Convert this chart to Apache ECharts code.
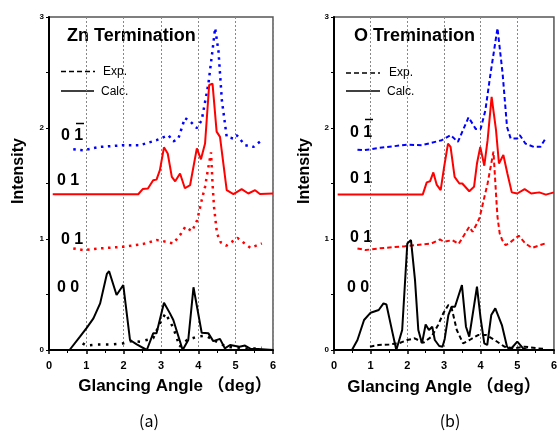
<!DOCTYPE html>
<html>
<head>
<meta charset="utf-8">
<script src="https://cdn.jsdelivr.net/npm/echarts@6/dist/echarts.min.js"></script>
<style>
  html,body{margin:0;padding:0;background:#fff;}
  #chart{width:560px;height:432px;}
</style>
</head>
<body>
<div id="chart"></div>
<script>
// [angle (deg), intensity] pairs
// (a) Zn termination
var znCalc00 = [[0,0],[0.55,0],[0.83,0.12],[1.01,0.2],[1.19,0.285],[1.37,0.42],[1.55,0.685],[1.61,0.71],[1.81,0.495],[1.99,0.585],[2.17,0.09],[2.35,0.05],[2.62,0],[2.79,0.15],[2.88,0.15],[3.08,0.425],[3.24,0.33],[3.33,0.27],[3.58,0],[3.73,0.09],[3.87,0.565],[4.09,0.155],[4.27,0.15],[4.4,0.08],[4.58,0.1],[4.71,0.015],[4.85,0.045],[5.1,0.03],[5.25,0.04],[5.4,0.01],[5.6,0.01],[6,0]];
var znExp00 = [[0.9,0.06],[1.0,0.04],[1.3,0.05],[1.7,0.05],[2.0,0.06],[2.2,0.08],[2.44,0.075],[2.79,0.105],[2.97,0.24],[3.12,0.33],[3.33,0.2],[3.5,0.03],[3.7,0.09],[3.97,0.12],[4.2,0.13],[4.4,0.09],[4.75,0.03],[5.1,0.02],[5.4,0.01],[5.7,0.02]];
var znExp01 = [[0.65,0.915],[0.92,0.9],[1.37,0.915],[1.99,0.93],[2.52,0.955],[2.88,0.99],[3.0,0.985],[3.33,0.96],[3.54,1.05],[3.65,1.11],[3.83,1.07],[3.97,1.17],[4.09,1.35],[4.18,1.47],[4.27,1.65],[4.34,1.78],[4.38,1.5],[4.42,1.29],[4.5,1.05],[4.6,0.97],[4.75,0.94],[5.05,1.01],[5.2,0.97],[5.4,0.92],[5.7,0.96]];
var znCalc01 = [[0.1,1.403],[2.39,1.403],[2.51,1.45],[2.65,1.455],[2.79,1.53],[2.88,1.535],[2.97,1.62],[3.08,1.826],[3.18,1.77],[3.29,1.56],[3.38,1.52],[3.51,1.59],[3.64,1.457],[3.78,1.486],[3.96,1.817],[4.07,1.718],[4.18,1.86],[4.29,2.387],[4.38,2.4],[4.49,1.967],[4.58,1.92],[4.76,1.44],[4.94,1.405],[5.16,1.45],[5.34,1.41],[5.52,1.44],[5.65,1.405],[6.0,1.41]];
var znExp0m1 = [[0.65,1.808],[0.92,1.8],[1.37,1.83],[1.99,1.845],[2.44,1.845],[2.88,1.89],[3.2,1.935],[3.33,1.88],[3.46,1.9],[3.64,2.09],[3.78,2.06],[3.96,2.0],[4.09,2.07],[4.27,2.4],[4.38,2.7],[4.45,2.9],[4.54,2.69],[4.63,2.25],[4.76,1.92],[4.94,1.905],[5.03,1.935],[5.25,1.845],[5.48,1.83],[5.7,1.89]];

// (b) O termination
var oCalc00 = [[0,0],[0.49,0],[0.64,0.09],[0.82,0.27],[1.0,0.336],[1.22,0.36],[1.35,0.42],[1.43,0.41],[1.6,0.15],[1.7,0],[1.86,0.18],[2.0,0.96],[2.1,0.99],[2.21,0.63],[2.3,0.18],[2.4,0.06],[2.5,0.23],[2.59,0.18],[2.68,0.21],[2.75,0.09],[2.87,0.036],[2.96,0.03],[3.02,0.1],[3.12,0.315],[3.21,0.39],[3.3,0.39],[3.49,0.585],[3.6,0.21],[3.69,0.12],[3.9,0.57],[4.0,0.285],[4.1,0.06],[4.18,0.045],[4.29,0.315],[4.4,0.375],[4.58,0.225],[4.72,0.03],[4.8,0],[5.0,0.075],[5.16,0.015],[5.3,0],[6,0]];
var oExp00 = [[0.98,0.03],[1.22,0.045],[1.5,0.05],[1.77,0.06],[2.0,0.09],[2.2,0.105],[2.44,0.066],[2.66,0.12],[2.84,0.225],[2.98,0.33],[3.12,0.405],[3.2,0.39],[3.35,0.18],[3.52,0.06],[3.7,0.09],[3.93,0.135],[4.15,0.135],[4.38,0.09],[4.65,0.03],[4.9,0.015],[5.2,0.03],[5.56,0.015],[5.75,0.01]];
var oExp01 = [[0.64,0.915],[0.86,0.9],[1.22,0.915],[1.93,0.935],[2.66,0.96],[2.89,0.996],[3.0,0.975],[3.23,0.99],[3.4,0.955],[3.69,1.11],[3.78,1.065],[3.9,1.14],[3.97,1.19],[4.19,1.5],[4.35,1.787],[4.43,1.35],[4.46,1.2],[4.52,1.05],[4.59,0.99],[4.68,0.945],[4.77,0.96],[5.04,1.03],[5.22,0.96],[5.4,0.92],[5.58,0.94],[5.76,0.96]];
var oCalc01 = [[0.1,1.4],[2.42,1.4],[2.53,1.51],[2.62,1.52],[2.71,1.6],[2.8,1.49],[2.91,1.44],[3.0,1.64],[3.11,1.86],[3.18,1.83],[3.29,1.56],[3.42,1.5],[3.5,1.5],[3.69,1.43],[3.82,1.47],[3.9,1.68],[3.99,1.83],[4.1,1.66],[4.19,1.89],[4.3,2.28],[4.42,1.98],[4.5,1.68],[4.62,1.757],[4.73,1.59],[4.85,1.42],[5.0,1.41],[5.2,1.45],[5.38,1.41],[5.6,1.42],[5.78,1.4],[6.0,1.42]];
var oExp0m1 = [[0.64,1.805],[0.82,1.8],[1.22,1.82],[2.0,1.85],[2.4,1.845],[2.94,1.89],[3.18,1.935],[3.38,1.875],[3.67,2.096],[3.87,1.99],[4.0,1.99],[4.13,2.16],[4.27,2.49],[4.46,2.9],[4.6,2.49],[4.72,2.01],[4.82,1.905],[5.0,1.905],[5.07,1.935],[5.22,1.86],[5.45,1.83],[5.63,1.83],[5.77,1.905]];

var titles = ['Zn Termination', 'O Tremination'];
var panelTags = ['(a)', '(b)'];
var xTitle = 'Glancing Angle （deg）';
var yTitle = 'Intensity';

var FONT = '"Liberation Sans", Arial, sans-serif';
var dotted = [2.5, 4.5];
var dottedSparse = [2.5, 5.5];
var dashed = [4.5, 3];

function xAx(idx){
  return {
    gridIndex: idx, type: 'value', min: 0, max: 6, interval: 1,
    axisLine: {show: true, onZero: false, lineStyle: {color: '#000', width: 2}},
    axisTick: {show: true, length: 4, lineStyle: {color: '#000', width: 1.5}},
    minorTick: {show: true, splitNumber: 2, length: 3, lineStyle: {color: '#000'}},
    axisLabel: {fontSize: 11, fontWeight: 'bold', color: '#000', margin: 10, fontFamily: FONT},
    splitLine: {show: true, lineStyle: {color: '#888', type: [2, 2], width: 1}}
  };
}
function yAx(idx){
  return {
    gridIndex: idx, type: 'value', min: 0, max: 3, interval: 1,
    axisLine: {show: true, lineStyle: {color: '#000', width: 2}},
    axisTick: {show: true, length: 3, lineStyle: {color: '#000'}},
    minorTick: {show: true, splitNumber: 2, length: 3, lineStyle: {color: '#000'}},
    axisLabel: {fontSize: 8, fontWeight: 'bold', color: '#000', margin: 5, fontFamily: FONT},
    splitLine: {show: false}
  };
}
function line(idx, data, color, dash, w){
  return {
    type: 'line', xAxisIndex: idx, yAxisIndex: idx, data: data,
    showSymbol: false, symbol: 'none', animation: false, silent: true,
    lineStyle: {color: color, width: w, type: dash}
  };
}

function txt(x, y, s, size, weight, extra){
  var t = {type: 'text', x: x, y: y, style: {text: s, fontSize: size, fontWeight: weight || 'normal', fontFamily: FONT, fill: '#000', verticalAlign: 'middle'}};
  if (extra) for (var k in extra) t.style[k] = extra[k];
  return t;
}
function seg(x1, y1, x2, y2, dash, w){
  return {type: 'line', shape: {x1: x1, y1: y1, x2: x2, y2: y2}, style: {stroke: '#000', lineWidth: w || 1.5, lineDash: dash || null}};
}

var graphics = [
  txt(67, 36, titles[0], 18, 'bold'),
  txt(354, 36, titles[1], 18, 'bold'),
  seg(61, 71.5, 95, 71.5, [5, 3]), txt(103, 72, 'Exp.', 12),
  seg(61, 91, 94, 91), txt(101, 92, 'Calc.', 12),
  seg(346, 73, 380, 73, [5, 3]), txt(389, 73, 'Exp.', 12),
  seg(346, 91, 380, 91), txt(387, 92, 'Calc.', 12),
  // curve labels
  txt(61, 136, '0 1', 16, 'bold'), seg(76, 123.5, 84, 123.5),
  txt(57, 181, '0 1', 16, 'bold'),
  txt(61, 240, '0 1', 16, 'bold'),
  txt(57, 288, '0 0', 16, 'bold'),
  txt(350, 133, '0 1', 16, 'bold'), seg(365, 119.5, 373, 119.5),
  txt(350, 179, '0 1', 16, 'bold'),
  txt(350, 238, '0 1', 16, 'bold'),
  txt(347, 288, '0 0', 16, 'bold'),
  // axis titles
  txt(175, 386, xTitle, 17, 'bold', {align: 'center', fontFamily: '"Liberation Sans", "Noto Sans CJK JP", sans-serif'}),
  txt(444, 387, xTitle, 17, 'bold', {align: 'center', fontFamily: '"Liberation Sans", "Noto Sans CJK JP", sans-serif'}),
  {type: 'text', x: 19, y: 171, rotation: Math.PI / 2, style: {text: yTitle, fontSize: 16, fontWeight: 'bold', fontFamily: FONT, fill: '#000', align: 'center', verticalAlign: 'middle'}},
  {type: 'text', x: 305, y: 171, rotation: Math.PI / 2, style: {text: yTitle, fontSize: 16, fontWeight: 'bold', fontFamily: FONT, fill: '#000', align: 'center', verticalAlign: 'middle'}},
  txt(149, 421, panelTags[0], 16, 'normal', {align: 'center', fontFamily: '"Noto Sans CJK JP", sans-serif'}),
  txt(450, 421, panelTags[1], 16, 'normal', {align: 'center', fontFamily: '"Noto Sans CJK JP", sans-serif'})
];

var chart = echarts.init(document.getElementById('chart'), null, {renderer: 'canvas'});
var option = {
  backgroundColor: '#fff',
  animation: false,
  grid: [
    {left: 49, top: 17, width: 224, height: 333, show: true, borderColor: '#555', borderWidth: 1.5},
    {left: 334, top: 17, width: 223, height: 333, show: true, borderColor: '#555', borderWidth: 1.5}
  ],
  xAxis: [xAx(0), xAx(1)],
  yAxis: [yAx(0), yAx(1)],
  series: [
    line(0, znExp0m1, '#0000ff', dotted, 2.5),
    line(0, znExp01, '#ff0000', dotted, 2.5),
    line(0, znExp00, '#000', dottedSparse, 2.5),
    line(0, znCalc01, '#ff0000', 'solid', 2),
    line(0, znCalc00, '#000', 'solid', 2),
    line(1, oExp0m1, '#0000ff', dashed, 2),
    line(1, oExp01, '#ff0000', dashed, 2),
    line(1, oExp00, '#000', dashed, 2),
    line(1, oCalc01, '#ff0000', 'solid', 2),
    line(1, oCalc00, '#000', 'solid', 2)
  ],
  graphic: graphics
};
chart.setOption(option);
</script>
</body>
</html>
